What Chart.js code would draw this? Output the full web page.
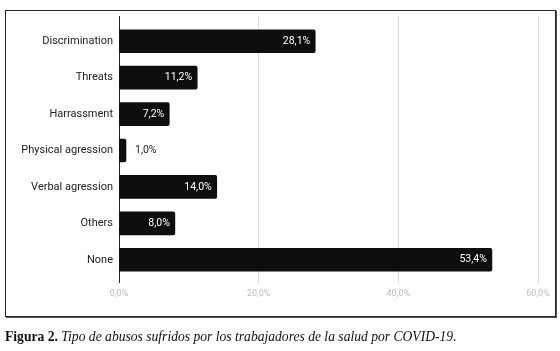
<!DOCTYPE html>
<html><head><meta charset="utf-8">
<script src="https://cdn.jsdelivr.net/npm/chart.js@4/dist/chart.umd.min.js"></script>
<style>
html,body{margin:0;padding:0;background:#fff;width:560px;height:351px;overflow:hidden;}
#box{position:absolute;left:5px;top:10px;width:549px;height:305px;border:1px solid #222;box-shadow:1px 1px 0 #555;}
#c{position:absolute;left:0;top:0;}
#cap{position:absolute;left:5px;top:329px;font-family:"Liberation Serif","DejaVu Serif",serif;font-size:13.6px;color:#111;white-space:nowrap;}
</style></head><body>
<div id="box"></div>
<canvas id="c" width="560" height="351"></canvas>
<div id="cap"><b>Figura 2.</b> <i>Tipo de abusos sufridos por los trabajadores de la salud por COVID-19.</i></div>
<script>
const categories = ["Discrimination", "Threats", "Harrassment", "Physical agression", "Verbal agression", "Others", "None"];
const values = [28.1, 11.2, 7.2, 1.0, 14.0, 8.0, 53.4];
const xTicks = [0, 20, 40, 60];

const fmt = v => Number(v).toFixed(1).replace('.', ',') + '%';
const gridColor = c => (c.tick && c.tick.value === 0) ? '#222' : '#dadada';
const setTicks = s => { s.ticks = xTicks.map(v => ({ value: v })); };

const valueLabels = {
  id: 'valueLabels',
  afterDatasetsDraw(chart) {
    const ctx = chart.ctx;
    const meta = chart.getDatasetMeta(0);
    ctx.save();
    ctx.font = '10.5px Roboto';
    ctx.textBaseline = 'middle';
    meta.data.forEach((bar, i) => {
      const txt = fmt(values[i]);
      const w = ctx.measureText(txt).width;
      const len = bar.x - bar.base;
      if (len > w + 10) {
        ctx.fillStyle = '#ffffff';
        ctx.textAlign = 'right';
        ctx.fillText(txt, bar.x - 5, bar.y);
      } else {
        ctx.fillStyle = '#222';
        ctx.textAlign = 'left';
        ctx.fillText(txt, bar.x + 9, bar.y);
      }
    });
    ctx.restore();
  }
};

new Chart(document.getElementById('c'), {
  type: 'bar',
  data: {
    labels: categories,
    datasets: [{
      data: values,
      backgroundColor: '#0e0e0e',
      barThickness: 23,
      borderRadius: 2
    }]
  },
  options: {
    indexAxis: 'y',
    responsive: false,
    animation: false,
    devicePixelRatio: 1,
    layout: { padding: { left: 0, right: 22, top: 0, bottom: 0 } },
    plugins: { legend: { display: false }, tooltip: { enabled: false } },
    scales: {
      y: {
        type: 'category',
        offset: true,
        grid: { display: false, drawTicks: false },
        border: { display: false },
        ticks: { color: '#222', font: { family: 'Roboto', size: 11 }, padding: 6 },
        afterFit(s) { s.width = 119; }
      },
      x: {
        type: 'linear',
        position: 'bottom',
        min: 0, max: 60,
        afterBuildTicks: setTicks,
        grid: { color: gridColor, lineWidth: 1, tickLength: 5, drawTicks: true },
        border: { display: false },
        ticks: { color: '#bdbdbd', font: { family: 'Roboto', size: 9 }, padding: 5, callback: v => fmt(v) },
        afterFit(s) { s.height = 73; }
      },
      x2: {
        type: 'linear',
        position: 'top',
        min: 0, max: 60,
        afterBuildTicks: setTicks,
        grid: { color: gridColor, lineWidth: 1, tickLength: 7, drawTicks: true, drawOnChartArea: false },
        border: { display: false },
        ticks: { display: false },
        afterFit(s) { s.height = 23; }
      }
    }
  },
  plugins: [valueLabels]
});
</script>
</body></html>
